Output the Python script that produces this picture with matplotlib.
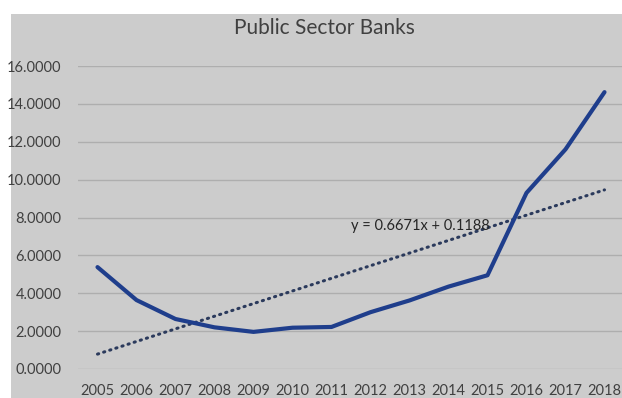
import numpy as np
import matplotlib.pyplot as plt
from matplotlib.patches import Rectangle

years = ['2005', '2006', '2007', '2008', '2009', '2010', '2011',
         '2012', '2013', '2014', '2015', '2016', '2017', '2018']
values = [5.38, 3.64, 2.64, 2.20, 1.96, 2.18, 2.22,
          3.00, 3.62, 4.35, 4.95, 9.30, 11.60, 14.62]
slope = 0.6671
intercept = 0.1188
ticks_y = [0, 2, 4, 6, 8, 10, 12, 14, 16]

plt.rcParams['font.family'] = ['Lato', 'DejaVu Sans']

W, H = 622, 398
fig = plt.figure(figsize=(W / 100, H / 100), dpi=100)
fig.patch.set_facecolor('white')

# grey chart area like the Excel screenshot
bg = '#cccccc'
fig.patches.append(Rectangle((11 / W, 0), 1 - 11 / W, (H - 14) / H,
                             transform=fig.transFigure, facecolor=bg,
                             edgecolor='none', zorder=-5))

ax = fig.add_axes([78 / W, (H - 369) / H, (624 - 78) / W, (369 - 66) / H])
ax.patch.set_alpha(0)

x = np.arange(len(years))
ax.plot(x, values, color='#1f3e8c', lw=3, solid_capstyle='round',
        solid_joinstyle='round', zorder=3)

trend = slope * (x + 1) + intercept
ax.plot(x, trend, color='#2b3a5c', lw=2.2, linestyle=(0, (0.4, 1.7)),
        dash_capstyle='round', zorder=2)

ax.text(6.5, 7.55, 'y = 0.6671x + 0.1188', fontsize=10.5, color='#262626',
        ha='left', va='center')

ax.set_xlim(-0.5, 13.5)
ax.set_ylim(0, 16)
ax.set_xticks(x)
ax.set_xticklabels(years)
ax.set_yticks(ticks_y)
ax.set_yticklabels(['%.4f' % v for v in ticks_y])
ax.tick_params(axis='both', length=0, labelsize=10.5, colors='#404040')
ax.tick_params(axis='x', pad=11)
ax.tick_params(axis='y', pad=12)
ax.grid(axis='y', color='#aeaeae', lw=1)
ax.set_axisbelow(True)
for s in ax.spines.values():
    s.set_visible(False)

fig.text(324 / W, (H - 28) / H, 'Public Sector Banks', fontsize=15,
         color='#404040', ha='center', va='center')

fig.savefig('out.png', dpi=100, facecolor='white')
